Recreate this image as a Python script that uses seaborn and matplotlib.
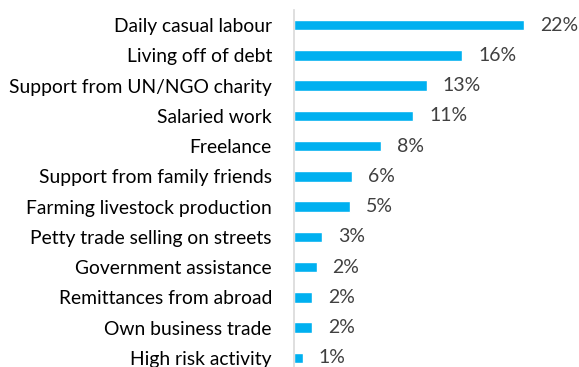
import matplotlib
matplotlib.use("Agg")
import matplotlib.pyplot as plt
import seaborn as sns
import pandas as pd

sources = [
    "Daily casual labour",
    "Living off of debt",
    "Support from UN/NGO charity",
    "Salaried work",
    "Freelance",
    "Support from family friends",
    "Farming livestock production",
    "Petty trade selling on streets",
    "Government assistance",
    "Remittances from abroad",
    "Own business trade",
    "High risk activity",
]
shares = [22.0, 16.1, 12.7, 11.4, 8.3, 5.6, 5.4, 2.7, 2.2, 1.8, 1.8, 0.9]

df = pd.DataFrame({"source": sources, "share": shares})

sns.set_style("white")
plt.rcParams["font.family"] = ["Lato", "DejaVu Sans"]

W, H, DPI = 579, 367, 100
fig = plt.figure(figsize=(W / DPI, H / DPI), dpi=DPI)
left_px, top_px, bottom_px = 293.5, 10, 373
ax = fig.add_axes([left_px / W, 1 - bottom_px / H, 1 - left_px / W, (bottom_px - top_px) / H])

sns.barplot(data=df, y="source", x="share", orient="h", color="#00B0F0",
            width=0.34, saturation=1, ax=ax)

ax.set_xlim(0, (W - left_px) / 10.49)
ax.set_ylim(len(sources) - 0.5, -0.5)
ax.set_xlabel("")
ax.set_ylabel("")
ax.set_xticks([])
ax.tick_params(axis="y", length=0, pad=15.5, labelsize=13.9, labelcolor="#000000")

for s in ["top", "right", "bottom"]:
    ax.spines[s].set_visible(False)
ax.spines["left"].set_color("#D9D9D9")
ax.spines["left"].set_linewidth(1.2)

for i, v in enumerate(shares):
    ax.annotate(f"{v:.0f}%", xy=(v, i), xytext=(11.5, 0), textcoords="offset points",
                va="center", ha="left", fontsize=14, color="#404040")

fig.savefig("out.png", dpi=DPI)
